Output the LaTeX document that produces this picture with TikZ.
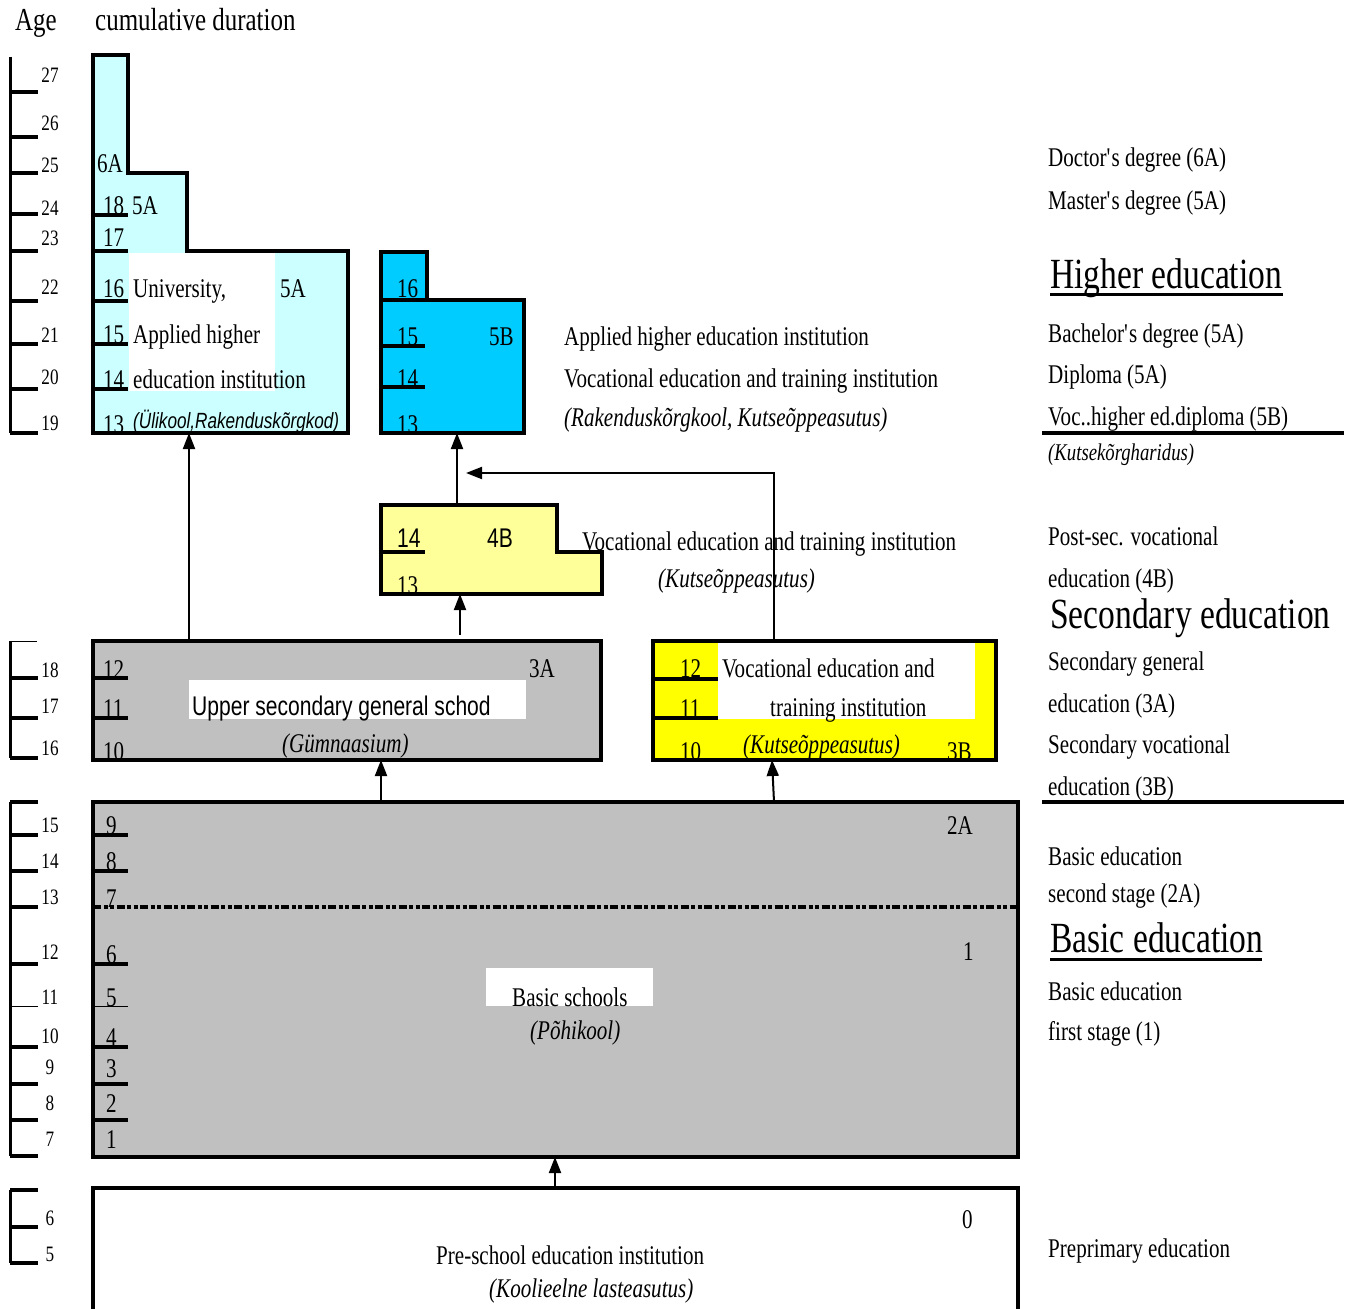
\documentclass[tikz,border=0pt]{standalone}
\usepackage{fontspec}
\setmainfont{Liberation Serif}[FakeStretch=0.78]
\newfontfamily\arialc{Liberation Sans}[FakeStretch=0.78]
\usetikzlibrary{arrows.meta}
\definecolor{cyanL}{HTML}{CCFFFF}
\definecolor{blueC}{HTML}{00CCFF}
\definecolor{yelL}{HTML}{FFFF99}
\definecolor{yelS}{HTML}{FFFF00}
\definecolor{grayB}{HTML}{C0C0C0}
\tikzset{
 t/.style={anchor=base west, inner sep=0pt, font=\fontsize{27}{30}\selectfont},
 ti/.style={t, font=\fontsize{27}{30}\selectfont\itshape},
 tsm/.style={t, font=\fontsize{22}{24}\selectfont},
 tage/.style={anchor=base, inner sep=0pt, font=\fontsize{22}{24}\selectfont},
 tsi/.style={t, font=\fontsize{24}{26}\selectfont\itshape},
 tbig/.style={t, font=\fontsize{43}{48}\selectfont},
 thdr/.style={t, font=\fontsize{32}{36}\selectfont},
 tsans/.style={t, font=\arialc\fontsize{27}{30}\selectfont},
 tsansi/.style={t, font=\arialc\fontsize{22}{24}\selectfont\itshape},
 boxline/.style={line width=3.5pt, miter limit=10},
 yr/.style={line width=3.5pt},
 tk/.style={line width=3.5pt},
 thintk/.style={line width=1pt},
 axisline/.style={line width=3pt},
 arr/.style={line width=2pt, -{Triangle[length=16pt,width=12pt]}},
 sepline/.style={line width=3.5pt},
 stageline/.style={line width=3.5pt, dash pattern=on 8pt off 2.5pt on 4pt off 2.5pt on 4pt off 2.5pt},
}
\begin{document}
\begin{tikzpicture}[x=1pt,y=-1pt]
\useasboundingbox (0,0) rectangle (1356,1308);
\fill[white] (0,0) rectangle (1356,1308);

% ---------- header
\node[thdr] (hAge) at (15,31) {Age};
\node[thdr] (hCum) at (95,31) {cumulative duration};

% ---------- age axis
\draw[axisline] (10,57) -- (10,433);
\foreach \y in {92,137,173,214,251,301,344,389,433} \draw[tk] (10,\y) -- (38,\y);
\draw[axisline] (10,641) -- (10,758);
\draw[thintk] (10,641) -- (37,641);
\foreach \y in {678,718,758} \draw[tk] (10,\y) -- (38,\y);
\draw[axisline] (10,802) -- (10,1156);
\foreach \y in {802,835,871,907,964,1047,1084,1120,1156} \draw[tk] (10,\y) -- (38,\y);
\draw[thintk] (10,1006) -- (38,1006);
\draw[axisline] (10,1190) -- (10,1263);
\foreach \y in {1190,1227,1263} \draw[tk] (10,\y) -- (38,\y);

\node[tage] (a27) at (50,83) {27};
\node[tage] (a26) at (50,131) {26};
\node[tage] (a25) at (50,173) {25};
\node[tage] (a24) at (50,215) {24};
\node[tage] (a23) at (50,245) {23};
\node[tage] (a22) at (50,294) {22};
\node[tage] (a21) at (50,342) {21};
\node[tage] (a20) at (50,384) {20};
\node[tage] (a19) at (50,430) {19};
\node[tage] (a18) at (50,677) {18};
\node[tage] (a17) at (50,713) {17};
\node[tage] (a16) at (50,755) {16};
\node[tage] (a15) at (50,832) {15};
\node[tage] (a14) at (50,868) {14};
\node[tage] (a13) at (50,904) {13};
\node[tage] (a12) at (50,959) {12};
\node[tage] (a11) at (50,1004) {11};
\node[tage] (a10) at (50,1043) {10};
\node[tage] (a9) at (50,1074) {9};
\node[tage] (a8) at (50,1110) {8};
\node[tage] (a7) at (50,1146) {7};
\node[tage] (a6) at (50,1225) {6};
\node[tage] (a5) at (50,1261) {5};

% ---------- box A : university (light cyan)
\filldraw[boxline, fill=cyanL] (93,55) -- (128,55) -- (128,173) -- (187,173) -- (187,251) -- (348,251) -- (348,433) -- (93,433) -- cycle;
\fill[white] (129,253) rectangle (275,391);
\foreach \y in {215,251,301,344,389} \draw[yr] (93,\y) -- (128,\y);
\node[t] (A6A) at (97,172) {6A};
\node[t] (A18) at (103,214) {18};
\node[t] (A5Aa) at (132,214) {5A};
\node[t] (A17) at (103,246) {17};
\node[t] (A16) at (103,297) {16};
\node[t] (Auni) at (133,297) {University,};
\node[t] (A5Ab) at (280,297) {5A};
\node[t] (A15) at (103,343) {15};
\node[t] (Aapp) at (133,343) {Applied higher};
\node[t] (A14) at (103,388) {14};
\node[t] (Aedu) at (133,388) {education institution};
\node[t] (A13) at (103,433) {13};
\node[tsansi] (Aest) at (133,428) {(Ülikool,Rakenduskõrgkod)};

% ---------- box B : applied higher (blue)
\filldraw[boxline, fill=blueC] (381,252) -- (427,252) -- (427,300) -- (524,300) -- (524,433) -- (381,433) -- cycle;
\draw[yr] (381,300) -- (427,300);
\foreach \y in {346,387} \draw[yr] (381,\y) -- (425,\y);
\node[t] (B16) at (397,297) {16};
\node[t] (B15) at (397,345) {15};
\node[t] (B5B) at (489,345) {5B};
\node[t] (B14) at (397,387) {14};
\node[t] (B13) at (397,433) {13};
\node[t] (Bt1) at (564,345) {Applied higher education institution};
\node[t] (Bt2) at (564,387) {Vocational education and training institution};
\node[ti] (Bt3) at (564,426) {(Rakenduskõrgkool, Kutseõppeasutus)};

% ---------- box C : post-secondary (light yellow)
\filldraw[boxline, fill=yelL] (381,505) -- (557,505) -- (557,552) -- (602,552) -- (602,594) -- (381,594) -- cycle;
\draw[yr] (381,552) -- (425,552);
\node[tsans] (C14) at (397,547) {14};
\node[tsans] (C4B) at (487,547) {4B};
\node[t] (C13) at (397,594) {13};
\node[t] (Ct1) at (582,550) {Vocational education and training institution};
\node[ti] (Ct2) at (658,587) {(Kutseõppeasutus)};

% ---------- box D : upper secondary general (gray)
\filldraw[boxline, fill=grayB] (93,641) rectangle (601,760);
\fill[white] (189,680) rectangle (526,719);
\foreach \y in {678,718} \draw[yr] (93,\y) -- (128,\y);
\node[t] (D12) at (103,678) {12};
\node[t] (D11) at (103,717) {11};
\node[t] (D10) at (103,760) {10};
\node[t] (D3A) at (529,677) {3A};
\node[tsans] (Dt1) at (192,715) {Upper secondary general schod};
\node[ti] (Dt2) at (282,752) {(Gümnaasium)};

% ---------- box E : vocational secondary (yellow)
\filldraw[boxline, fill=yelS] (653,641) rectangle (996,760);
\fill[white] (718,643) rectangle (975,719);
\foreach \y in {679,718} \draw[yr] (653,\y) -- (718,\y);
\node[t] (E12) at (680,677) {12};
\node[t] (E11) at (680,717) {11};
\node[t] (E10) at (680,760) {10};
\node[t] (Et1) at (722,677) {Vocational education and};
\node[t] (Et2) at (770,716) {training institution};
\node[ti] (Et3) at (743,753) {(Kutseõppeasutus)};
\node[t] (E3B) at (947,760) {3B};

% ---------- box F : basic school (gray)
\filldraw[boxline, fill=grayB] (93,802) rectangle (1018,1157);
\fill[white] (486,968) rectangle (653,1006);
\foreach \y in {835,871,964,1047,1084,1120} \draw[yr] (93,\y) -- (128,\y);
\draw[thintk] (93,1006) -- (128,1006);
\draw[stageline] (93,907) -- (1018,907);
\node[t] (F9) at (106,834) {9};
\node[t] (F8) at (106,870) {8};
\node[t] (F7) at (106,907) {7};
\node[t] (F6) at (106,963) {6};
\node[t] (F5) at (106,1006) {5};
\node[t] (F4) at (106,1046) {4};
\node[t] (F3) at (106,1077) {3};
\node[t] (F2) at (106,1112) {2};
\node[t] (F1) at (106,1148) {1};
\node[t] (F2A) at (947,834) {2A};
\node[t] (Fone) at (963,960) {1};
\node[t] (Ft1) at (512,1006) {Basic schools};
\node[ti] (Ft2) at (530,1039) {(Põhikool)};

% ---------- box G : pre-school
\draw[boxline] (93,1320) -- (93,1188) -- (1018,1188) -- (1018,1320);
\node[t] (G0) at (962,1228) {0};
\node[t] (Gt1) at (436,1264) {Pre-school education institution};
\node[ti] (Gt2) at (489,1297) {(Koolieelne lasteasutus)};

% ---------- connectors
\coordinate (pA1) at (189,641); \coordinate (pA2) at (189,433);
\coordinate (pB1) at (457,505); \coordinate (pB2) at (457,433);
\coordinate (pC1) at (460,635); \coordinate (pC2) at (460,594);
\coordinate (pE1) at (774,641); \coordinate (pE2) at (774,473); \coordinate (pE3) at (466,473);
\coordinate (pD1) at (381,802); \coordinate (pD2) at (381,760);
\coordinate (pF1) at (774,802); \coordinate (pF2) at (772,760);
\coordinate (pG1) at (555,1188); \coordinate (pG2) at (555,1157);
\draw[arr] (pA1) -- (pA2);
\draw[arr] (pB1) -- (pB2);
\draw[arr] (pC1) -- (pC2);
\draw[arr] (pE1) -- (pE2) -- (pE3);
\draw[arr] (pD1) -- (pD2);
\draw[arr] (pF1) -- (pF2);
\draw[arr] (pG1) -- (pG2);

% ---------- right column
\node[t] (R1) at (1048,167) {Doctor\textquotesingle s degree (6A)};
\node[t] (R2) at (1048,209) {Master\textquotesingle s degree (5A)};
\node[tbig] (R3) at (1050,288) {Higher education};
\draw[line width=3pt] (1050,294) -- (1283,294);
\node[t] (R4) at (1048,342) {Bachelor\textquotesingle s degree (5A)};
\node[t] (R5) at (1048,383) {Diploma (5A)};
\node[t] (R6) at (1048,425) {Voc..higher ed.diploma (5B)};
\draw[sepline] (1042,433) -- (1344,433);
\node[tsi] (R7) at (1048,460) {(Kutsekõrgharidus)};
\node[t] (R8) at (1048,545) {Post-sec. vocational};
\node[t] (R9) at (1048,587) {education (4B)};
\node[tbig] (R10) at (1050,628) {Secondary education};
\node[t] (R11) at (1048,670) {Secondary general};
\node[t] (R12) at (1048,712) {education (3A)};
\node[t] (R13) at (1048,753) {Secondary vocational};
\node[t] (R14) at (1048,795) {education (3B)};
\draw[sepline] (1042,802) -- (1344,802);
\node[t] (R15) at (1048,865) {Basic education};
\node[t] (R16) at (1048,902) {second stage (2A)};
\node[tbig] (R17) at (1050,952) {Basic education};
\draw[line width=3pt] (1050,959) -- (1262,959);
\node[t] (R18) at (1048,1000) {Basic education};
\node[t] (R19) at (1048,1040) {first stage (1)};
\node[t] (R20) at (1048,1257) {Preprimary education};
\end{tikzpicture}
\end{document}
